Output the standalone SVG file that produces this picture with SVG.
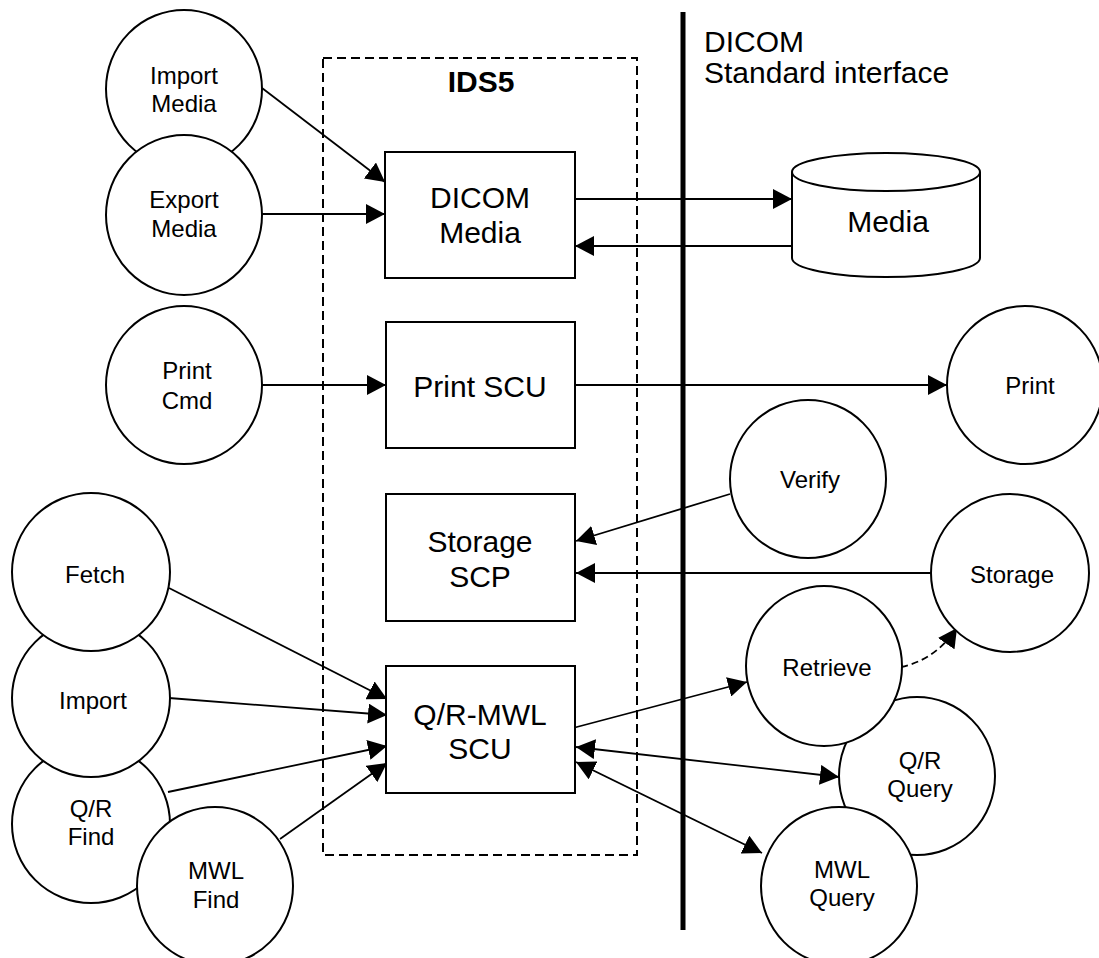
<svg xmlns="http://www.w3.org/2000/svg" width="1099" height="958" viewBox="0 0 1099 958">
<style>
.sh{fill:#fff;stroke:#000;stroke-width:2}
.c{fill:none;stroke:#000;stroke-width:1.8}
.t{font-family:"Liberation Sans",Arial,sans-serif;font-size:24px;fill:#000;text-anchor:middle}
.bt{font-family:"Liberation Sans",Arial,sans-serif;font-size:30px;fill:#000;text-anchor:middle}
</style>
<defs>
<marker id="ah" viewBox="0 0 19 20" refX="19" refY="10" markerWidth="19" markerHeight="20" markerUnits="userSpaceOnUse" orient="auto-start-reverse"><path d="M0,0 L19,10 L0,20 z" fill="#000"/></marker>
</defs>
<rect width="1099" height="958" fill="#fff"/>
<g id="ids5">
<rect x="323" y="58" width="314" height="797" fill="none" stroke="#000" stroke-width="2" stroke-dasharray="9 5"/>
<text x="481" y="92" class="bt" font-weight="bold">IDS5</text>
</g>
<g id="interface">
<line x1="683" y1="12" x2="683" y2="930" stroke="#000" stroke-width="5"/>
<text x="704" y="52" class="bt" text-anchor="start" style="text-anchor:start">DICOM</text>
<text x="704" y="83" class="bt" style="text-anchor:start">Standard interface</text>
</g>
<g id="connectors">
<path class="c" d="M262,88 L385,182" marker-end="url(#ah)"/>
<path class="c" d="M262,214 L385,214" marker-end="url(#ah)"/>
<path class="c" d="M575,199 L792,199" marker-end="url(#ah)"/>
<path class="c" d="M792,246 L575,246" marker-end="url(#ah)"/>
<path class="c" d="M262,385 L386,385" marker-end="url(#ah)"/>
<path class="c" d="M575,385 L947,385" marker-end="url(#ah)"/>
<path class="c" d="M730,494 L576,541" marker-end="url(#ah)"/>
<path class="c" d="M931,573 L576,573" marker-end="url(#ah)"/>
<path class="c" d="M169,588 L387,699" marker-end="url(#ah)"/>
<path class="c" d="M169,698 L387,715" marker-end="url(#ah)"/>
<path class="c" d="M168,792 L387,746" marker-end="url(#ah)"/>
<path class="c" d="M280,839 L387,763" marker-end="url(#ah)"/>
<path class="c" d="M573,728 L747,682" marker-end="url(#ah)"/>
<path class="c" d="M576,747 L839,777" marker-start="url(#ah)" marker-end="url(#ah)"/>
<path class="c" d="M576,762 L762,853" marker-start="url(#ah)" marker-end="url(#ah)"/>
<path class="c" d="M901,667 Q935,660 957,628" stroke-dasharray="7 4" marker-end="url(#ah)"/>
</g>
<g id="dicom-media">
<rect class="sh" x="385" y="152" width="190" height="126"/>
<text class="bt" x="480" y="208">DICOM</text>
<text class="bt" x="480" y="243">Media</text>
</g>
<g id="print-scu">
<rect class="sh" x="386" y="322" width="189" height="126"/>
<text class="bt" x="480" y="397">Print SCU</text>
</g>
<g id="storage-scp">
<rect class="sh" x="386" y="494" width="189" height="127"/>
<text class="bt" x="480" y="552">Storage</text>
<text class="bt" x="480" y="587">SCP</text>
</g>
<g id="qr-mwl-scu">
<rect class="sh" x="386" y="666" width="189" height="127"/>
<text class="bt" x="480" y="725">Q/R-MWL</text>
<text class="bt" x="480" y="759">SCU</text>
</g>
<g id="media">
<path class="sh" d="M792,172 L792,258 A94,19 0 0 0 980,258 L980,172 A94,19 0 0 0 792,172 Z"/>
<path fill="none" stroke="#000" stroke-width="2" d="M792,172 A94,19 0 0 0 980,172"/>
<text class="bt" x="888" y="232">Media</text>
</g>
<g id="import-media">
<ellipse class="sh" cx="184" cy="89" rx="78" ry="79"/>
<text class="t" x="184" y="84">Import</text>
<text class="t" x="184" y="112">Media</text>
</g>
<g id="export-media">
<ellipse class="sh" cx="184" cy="215" rx="78" ry="80"/>
<text class="t" x="184" y="208">Export</text>
<text class="t" x="184" y="237">Media</text>
</g>
<g id="print-cmd">
<ellipse class="sh" cx="184" cy="385" rx="78" ry="79"/>
<text class="t" x="187" y="379">Print</text>
<text class="t" x="187" y="409">Cmd</text>
</g>
<g id="print">
<ellipse class="sh" cx="1025" cy="385" rx="78" ry="79"/>
<text class="t" x="1030" y="394">Print</text>
</g>
<g id="verify">
<ellipse class="sh" cx="808" cy="479" rx="78" ry="79"/>
<text class="t" x="810" y="488">Verify</text>
</g>
<g id="storage">
<ellipse class="sh" cx="1010" cy="573" rx="79" ry="79"/>
<text class="t" x="1012" y="583">Storage</text>
</g>
<g id="qr-find">
<ellipse class="sh" cx="91" cy="824" rx="79" ry="79"/>
<text class="t" x="91" y="817">Q/R</text>
<text class="t" x="91" y="845">Find</text>
</g>
<g id="import">
<ellipse class="sh" cx="91" cy="698" rx="79" ry="79"/>
<text class="t" x="93" y="709">Import</text>
</g>
<g id="fetch">
<ellipse class="sh" cx="91" cy="572" rx="79" ry="79"/>
<text class="t" x="95" y="583">Fetch</text>
</g>
<g id="mwl-find">
<ellipse class="sh" cx="215" cy="886" rx="78" ry="79"/>
<text class="t" x="216" y="879">MWL</text>
<text class="t" x="216" y="908">Find</text>
</g>
<g id="qr-query">
<ellipse class="sh" cx="917" cy="776" rx="78" ry="79"/>
<text class="t" x="920" y="769">Q/R</text>
<text class="t" x="920" y="797">Query</text>
</g>
<g id="retrieve">
<ellipse class="sh" cx="824" cy="666" rx="78" ry="80"/>
<text class="t" x="827" y="676">Retrieve</text>
</g>
<g id="mwl-query">
<ellipse class="sh" cx="839" cy="886" rx="78" ry="79"/>
<text class="t" x="842" y="878">MWL</text>
<text class="t" x="842" y="906">Query</text>
</g>
</svg>
